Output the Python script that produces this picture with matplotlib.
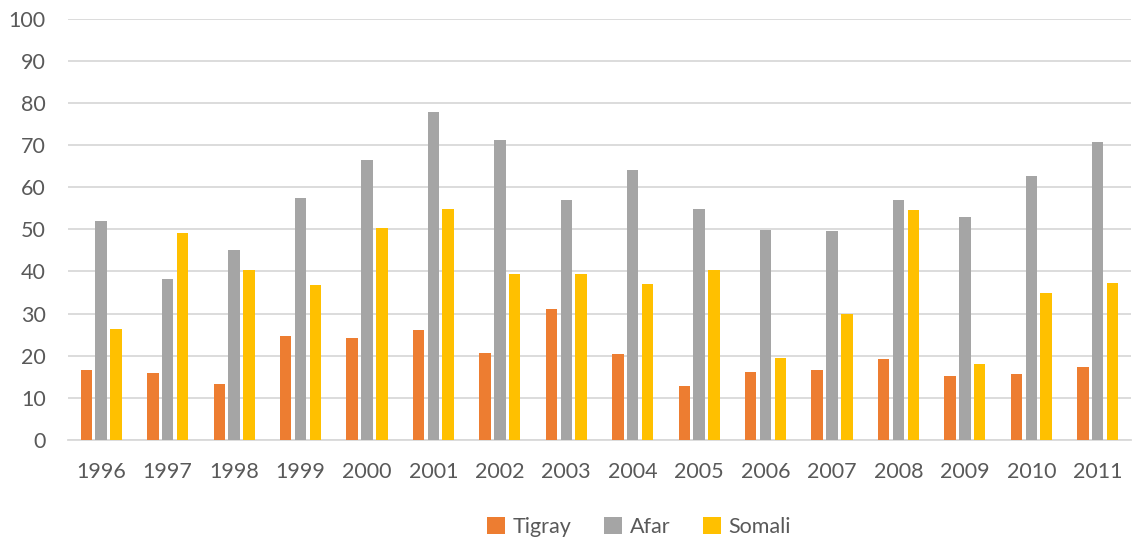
import numpy as np
import matplotlib.pyplot as plt
from matplotlib.patches import Patch

years = ["1996", "1997", "1998", "1999", "2000", "2001", "2002", "2003",
         "2004", "2005", "2006", "2007", "2008", "2009", "2010", "2011"]
tigray = [16.5, 15.9, 13.3, 24.8, 24.1, 26.2, 20.6, 31.0,
          20.4, 12.9, 16.1, 16.5, 19.3, 15.3, 15.7, 17.4]
afar = [52.0, 38.2, 45.1, 57.4, 66.5, 77.9, 71.3, 56.9,
        64.2, 54.9, 49.8, 49.5, 57.0, 52.9, 62.6, 70.7]
somali = [26.3, 49.1, 40.4, 36.8, 50.3, 54.9, 39.5, 39.5,
          37.0, 40.4, 19.5, 29.9, 54.6, 18.1, 35.0, 37.2]

series = [("Tigray", tigray, "#ED7D31"),
          ("Afar", afar, "#A5A5A5"),
          ("Somali", somali, "#FFC000")]

plt.rcParams['font.family'] = ['Lato', 'DejaVu Sans']
text_color = "#595959"

fig = plt.figure(figsize=(11.41, 5.43), dpi=100)
ax = fig.add_axes([0.0596, 0.1897, 0.9316, 0.7759])

x = np.arange(len(years))
bar_w = 0.173
pitch = 0.223
for i, (name, vals, color) in enumerate(series):
    ax.bar(x + (i - 1) * pitch, vals, width=bar_w, color=color,
           label=name, zorder=3)

ax.set_xlim(-0.5, len(years) - 0.5)
ax.set_ylim(0, 100)
ax.set_yticks(np.arange(0, 101, 10))
ax.set_xticks(x)
ax.set_xticklabels(years)

ax.yaxis.grid(True, color="#D9D9D9", linewidth=1.3, zorder=0)
ax.set_axisbelow(True)
for side in ("top", "right", "left"):
    ax.spines[side].set_visible(False)
ax.spines["bottom"].set_color("#D9D9D9")
ax.spines["bottom"].set_linewidth(1.3)

ax.tick_params(axis="both", length=0, labelsize=15.5, colors=text_color)
ax.tick_params(axis="y", pad=16)
ax.tick_params(axis="x", pad=16)

handles = [Patch(facecolor=c, label=n) for n, _, c in series]
fig.legend(handles=handles, loc="center", bbox_to_anchor=(0.56, 0.03),
           ncol=3, frameon=False, fontsize=15.5, labelcolor=text_color,
           handlelength=0.85, handleheight=0.85, handletextpad=0.35,
           columnspacing=1.5)

fig.savefig("out.png", dpi=100, facecolor="white")
